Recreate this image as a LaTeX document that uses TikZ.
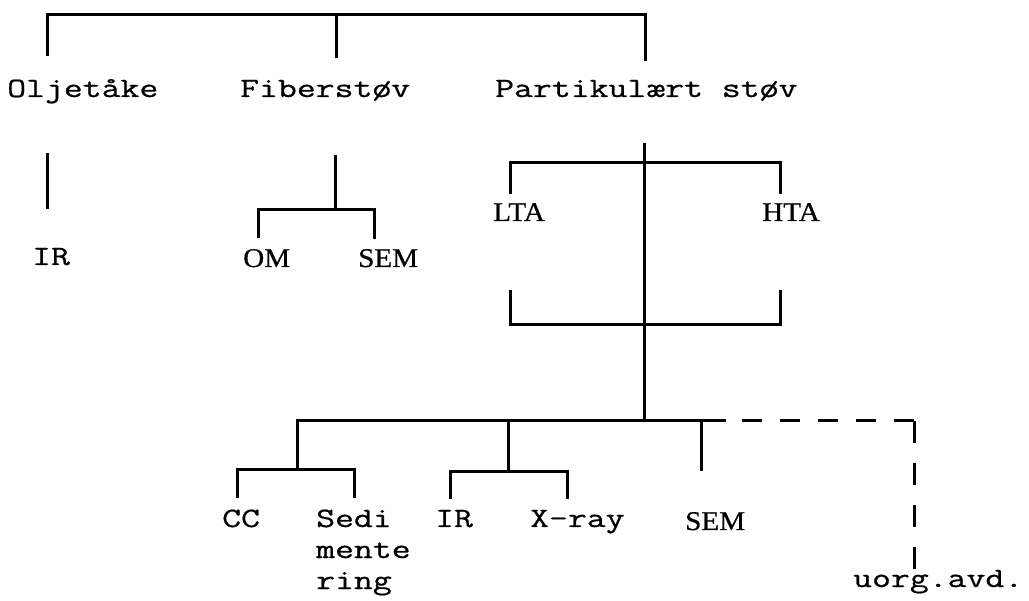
\documentclass[tikz,border=0pt]{standalone}
\usepackage{fontspec}
\newfontfamily\monofont[FakeStretch=1.31,FakeBold=0.7]{Latin Modern Mono}
\newfontfamily\seriffont[FakeStretch=1.08,FakeBold=0.6]{Liberation Serif}
\begin{document}
\begin{tikzpicture}[x=1pt,y=-1pt,
  conn/.style={line width=3pt, line cap=rect},
  dsh/.style={line width=3pt, dash pattern=on 20pt off 18pt, dash phase=20pt},
  dshv/.style={line width=3pt, dash pattern=on 22pt off 20pt},
  tw/.style={font=\monofont\fontsize{28}{31}\selectfont, inner sep=0pt, anchor=base west},
  sr/.style={font=\seriffont\fontsize{27}{30}\selectfont, inner sep=0pt, anchor=base west}]
\useasboundingbox (0,0) rectangle (1029,601);

% labels
\node[tw] (olje) at (7,97) {Oljetåke};
\node[tw] (fiber) at (240,97) {Fiberstøv};
\node[tw] (part) at (495,97) {Partikulært støv};
\node[tw] (ir1) at (32,265) {IR};
\node[sr] (om) at (243,267) {OM};
\node[sr] (sem1) at (358,267) {SEM};
\node[sr] (lta) at (493,221) {LTA};
\node[sr] (hta) at (762,221) {HTA};
\node[tw] (cc) at (222,527) {CC};
\node[tw, align=left] (sed) at (316,589) {Sedi\\mente\\ring};
\node[tw] (ir2) at (435,527) {IR};
\node[tw] (xray) at (530,527) {X-ray};
\node[sr] (sem2) at (685,530) {SEM};
\node[tw] (uorg) at (853,587) {uorg.avd.};

% junction coordinates
\coordinate (t1) at (47,15);   \coordinate (t1b) at (47,55);
\coordinate (t2) at (336,15);  \coordinate (t2b) at (336,57);
\coordinate (t3) at (645,15);  \coordinate (t3b) at (645,60);
\coordinate (o1) at (47,155);  \coordinate (o2) at (47,208);
\coordinate (f1) at (335,157); \coordinate (f2) at (335,210);
\coordinate (fl) at (258,210); \coordinate (flb) at (258,237);
\coordinate (fr) at (374,210); \coordinate (frb) at (374,238);
\coordinate (p1) at (644,145); \coordinate (p2) at (644,421);
\coordinate (blt) at (510,163); \coordinate (bl) at (510,193);
\coordinate (brt) at (780,163); \coordinate (br) at (780,193);
\coordinate (cl) at (510,292); \coordinate (clb) at (510,325);
\coordinate (cr) at (780,292); \coordinate (crb) at (780,325);
\coordinate (h1) at (297,421); \coordinate (h2) at (724,421);
\coordinate (hc) at (914,421); \coordinate (hv) at (914,569);
\coordinate (s1) at (701,421); \coordinate (s2) at (701,470);
\coordinate (l1) at (297,470);
\coordinate (ll) at (237,470); \coordinate (llb) at (237,497);
\coordinate (lr) at (354,470); \coordinate (lrb) at (354,497);
\coordinate (m0) at (508,421); \coordinate (m1) at (508,472);
\coordinate (ml) at (450,472); \coordinate (mlb) at (450,498);
\coordinate (mr) at (567,472); \coordinate (mrb) at (567,498);

% top level
\draw[conn] (t1b) -- (t1) -- (t3) -- (t3b);
\draw[conn] (t2) -- (t2b);
% Oljetaake
\draw[conn] (o1) -- (o2);
% Fiberstoev
\draw[conn] (f1) -- (f2);
\draw[conn] (flb) -- (fl) -- (fr) -- (frb);
% Partikulaert stoev
\draw[conn] (p1) -- (p2);
\draw[conn] (bl) -- (blt) -- (brt) -- (br);
\draw[conn] (cl) -- (clb) -- (crb) -- (cr);
% bottom bar
\draw[conn] (h1) -- (h2);
\draw[dsh] (h2) -- (hc);
\draw[dshv] (hc) -- (hv);
\draw[conn] (s1) -- (s2);
\draw[conn] (h1) -- (l1);
\draw[conn] (llb) -- (ll) -- (lr) -- (lrb);
\draw[conn] (m0) -- (m1);
\draw[conn] (mlb) -- (ml) -- (mr) -- (mrb);
\end{tikzpicture}
\end{document}
